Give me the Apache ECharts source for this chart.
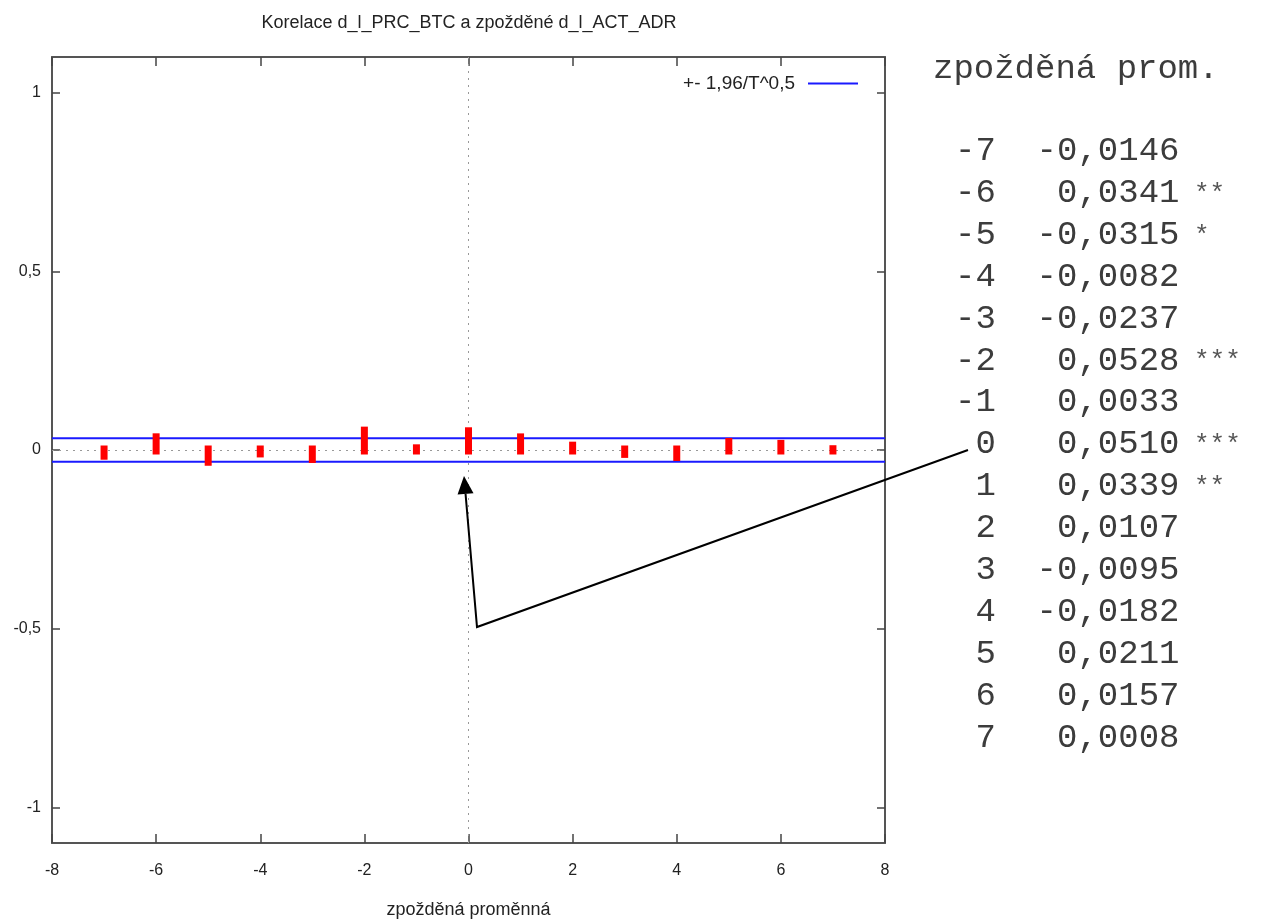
<!DOCTYPE html>
<html>
<head>
<meta charset="utf-8">
<script src="https://cdn.jsdelivr.net/npm/echarts@6/dist/echarts.min.js"></script>
<style>
  html, body { margin: 0; padding: 0; background: #fff; }
  #chart { width: 1282px; height: 923px; }
</style>
</head>
<body>
<div id="chart"></div>
<script>
// data: lags and cross-correlations (from the table on the right)
const lags = [-7, -6, -5, -4, -3, -2, -1, 0, 1, 2, 3, 4, 5, 6, 7]
const corr = [-0.0146, 0.0341, -0.0315, -0.0082, -0.0237, 0.0528, 0.0033, 0.0510,
  0.0339, 0.0107, -0.0095, -0.0182, 0.0211, 0.0157, 0.0008]
const stars = ['', '**', '*', '', '', '***', '', '***', '**', '', '', '', '', '', '']
const bound = 0.0327 // +- 1,96/T^0,5
const yTicks = [-1, -0.5, 0, 0.5, 1]

const chart = echarts.init(document.getElementById('chart'))

const FONT = 'Liberation Sans'
const fmt = v => String(v).replace('.', ',')

// table on the right side
const tableText = []
tableText.push({
  type: 'text', left: 933, top: 52,
  style: { text: 'zpožděná prom.', font: '34px "Liberation Mono"', fill: '#3c3c3c' }
})
lags.forEach((lag, i) => {
  const val = corr[i].toFixed(4).replace('.', ',')
  const line = String(lag).padStart(2) + '  ' + val.padStart(7)
  tableText.push({
    type: 'text', left: 955, top: 134 + i * 41.9,
    style: { text: line, font: '34px "Liberation Mono"', fill: '#3c3c3c' }
  })
  if (stars[i]) {
    tableText.push({
      type: 'text', left: 1194, top: 139 + i * 41.9,
      style: { text: stars[i], font: '26px "Liberation Mono"', fill: '#555' }
    })
  }
})

// arrow from table row "0" to the bar at lag 0
const p0 = [968, 450], p1 = [477, 627], tip = [464, 476]
const dx = tip[0] - p1[0], dy = tip[1] - p1[1]
const len = Math.sqrt(dx * dx + dy * dy)
const ux = dx / len, uy = dy / len
const hl = 18, hw = 8
const base = [tip[0] - ux * hl, tip[1] - uy * hl]
const arrow = [
  {
    type: 'polyline', z: 100,
    shape: { points: [p0, p1, base] },
    style: { stroke: '#000', lineWidth: 2, fill: null }
  },
  {
    type: 'polygon', z: 100,
    shape: { points: [tip, [base[0] - uy * hw, base[1] + ux * hw], [base[0] + uy * hw, base[1] - ux * hw]] },
    style: { fill: '#000' }
  }
]

const axisCommon = {
  type: 'value',
  axisLine: { show: true, onZero: false, lineStyle: { color: '#555', width: 2 } },
  splitLine: { show: false }
}
const tickStyle = { color: '#444', width: 1.5 }

const option = {
  animation: false,
  backgroundColor: '#fff',
  title: {
    text: 'Korelace d_l_PRC_BTC a zpožděné d_l_ACT_ADR',
    left: 464, top: 9, textAlign: 'center',
    textStyle: { fontFamily: FONT, fontSize: 18, fontWeight: 'normal', color: '#222' }
  },
  legend: {
    data: ['+- 1,96/T^0,5'],
    right: 419, top: 69, align: 'right',
    itemWidth: 50, itemHeight: 2, itemGap: 0,
    icon: 'rect',
    textStyle: { fontFamily: FONT, fontSize: 19, color: '#222', padding: [0, 8, 0, 0] }
  },
  grid: { left: 52, top: 57, right: 397, bottom: 80, outerBoundsMode: 'none' },
  xAxis: [
    Object.assign({}, axisCommon, {
      position: 'bottom', min: -8, max: 8, interval: 2,
      axisTick: { show: true, inside: true, length: 9, lineStyle: tickStyle },
      axisLabel: { fontFamily: FONT, fontSize: 16, color: '#222', margin: 20, formatter: fmt },
      name: 'zpožděná proměnná', nameLocation: 'middle', nameGap: 58,
      nameTextStyle: { fontFamily: FONT, fontSize: 18, color: '#222' }
    }),
    Object.assign({}, axisCommon, {
      position: 'top', min: -8, max: 8, interval: 2,
      axisTick: { show: true, inside: true, length: 9, lineStyle: tickStyle },
      axisLabel: { show: false }
    })
  ],
  yAxis: [
    Object.assign({}, axisCommon, {
      position: 'left', min: -1.1, max: 1.1,
      axisTick: { show: true, inside: true, length: 8, customValues: yTicks, lineStyle: tickStyle },
      axisLabel: { fontFamily: FONT, fontSize: 16, color: '#222', margin: 11, customValues: yTicks, formatter: fmt }
    }),
    Object.assign({}, axisCommon, {
      position: 'right', min: -1.1, max: 1.1,
      axisTick: { show: true, inside: true, length: 8, customValues: yTicks, lineStyle: tickStyle },
      axisLabel: { show: false, customValues: yTicks }
    })
  ],
  series: [
    {
      name: 'corr',
      type: 'custom',
      data: lags.map((l, i) => [l, corr[i]]),
      renderItem: function (params, api) {
        const a = api.coord([api.value(0), 0])
        const b = api.coord([api.value(0), api.value(1)])
        const top = Math.min(a[1], b[1]) - 4.5
        const bottom = Math.max(a[1], b[1]) + 4.5
        return {
          type: 'rect',
          shape: { x: a[0] - 3.5, y: top, width: 7, height: bottom - top },
          style: { fill: '#ff0000' }
        }
      },
      z: 5,
      markLine: {
        silent: true, symbol: 'none', label: { show: false },
        lineStyle: { color: '#999', type: [2, 5], width: 1 },
        data: [{ xAxis: 0 }, { yAxis: 0 }]
      }
    },
    {
      name: '+- 1,96/T^0,5', type: 'line', showSymbol: false, symbol: 'none',
      data: [[-8, bound], [8, bound]],
      lineStyle: { color: '#1a1aff', width: 2 }, itemStyle: { color: '#1a1aff' }, z: 4
    },
    {
      name: '+- 1,96/T^0,5', type: 'line', showSymbol: false, symbol: 'none',
      data: [[-8, -bound], [8, -bound]],
      lineStyle: { color: '#1a1aff', width: 2 }, itemStyle: { color: '#1a1aff' }, z: 4
    }
  ],
  graphic: tableText.concat(arrow)
}

chart.setOption(option)
</script>
</body>
</html>
